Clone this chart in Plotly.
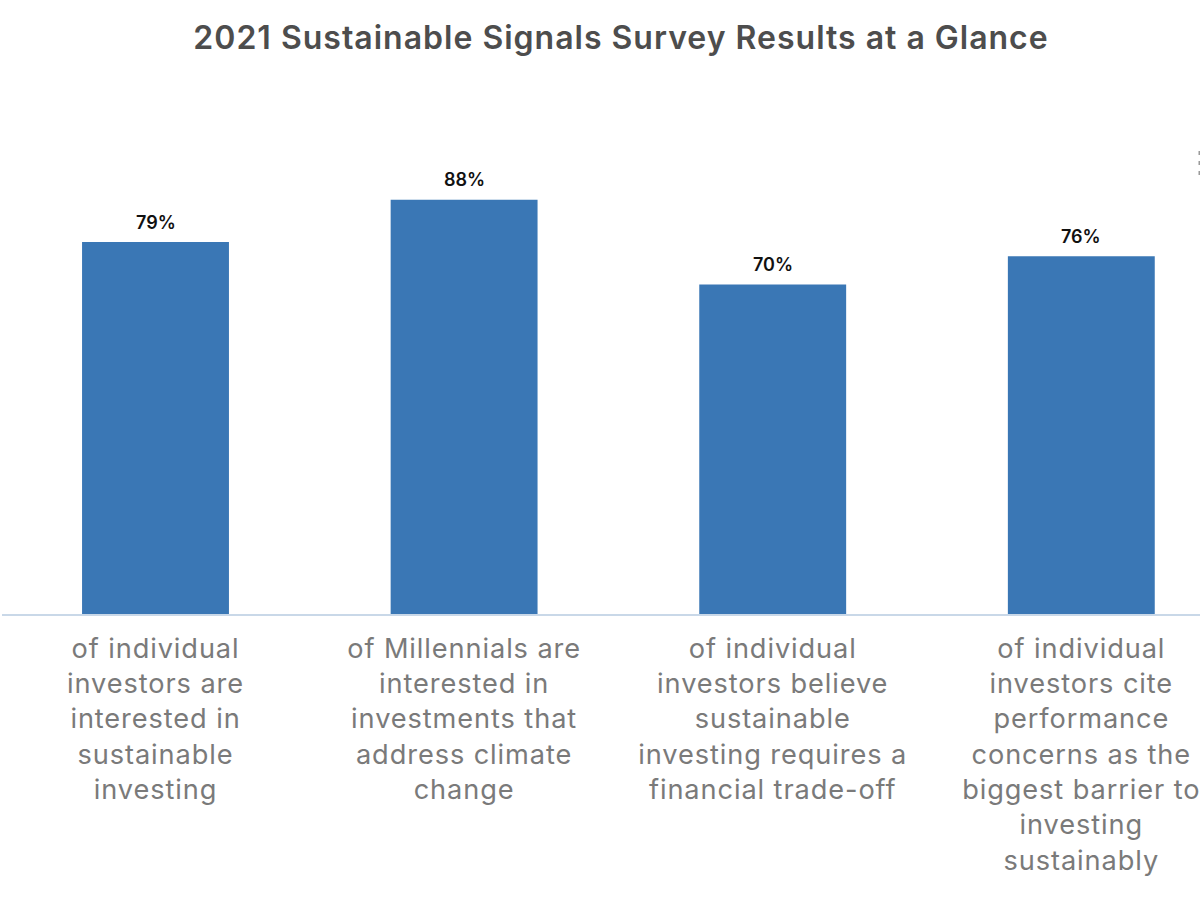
import plotly.graph_objects as go

categories = [
    "of individual<br>investors are<br>interested in<br>sustainable<br>investing",
    "of Millennials are<br>interested in<br>investments that<br>address climate<br>change",
    "of individual<br>investors believe<br>sustainable<br>investing requires a<br>financial trade-off",
    "of individual<br>investors cite<br>performance<br>concerns as the<br>biggest barrier to<br>investing<br>sustainably",
]
values = [79, 88, 70, 76]
labels = ["79%", "88%", "70%", "76%"]
title = "2021 Sustainable Signals Survey Results at a Glance"

fig = go.Figure(go.Bar(
    x=categories, y=values, cliponaxis=False,
    marker=dict(color="#3a77b5", line_width=0), width=0.476,
))
for c, v, t in zip(categories, values, labels):
    fig.add_annotation(x=c, y=v, text=t, showarrow=False, yanchor="middle", yshift=20,
                       font=dict(family="Inter, sans-serif", size=18, color="#111111", weight=600))
# small menu-dots artefact at the right edge of the reference
for py in (153, 163, 173):
    fig.add_shape(type="rect", xref="paper", yref="paper",
                  x0=1198.5 / 1200, x1=1, y0=1 - (py + 2) / 902, y1=1 - (py - 2) / 902,
                  fillcolor="#9a9a9a", line_width=0)
fig.update_layout(
    width=1200, height=902, autosize=False,
    margin=dict(l=0, r=0, t=0, b=0),
    paper_bgcolor="white", plot_bgcolor="white", showlegend=False,
    title=dict(text=title, x=0.5175, xanchor="center", y=0.958, yanchor="middle",
               font=dict(family="Inter, sans-serif", size=32, color="#4d4d4d", weight=600)),
    xaxis=dict(domain=[0.00167, 1], range=[-0.4974, 3.3846], showgrid=False, ticks="",
               showline=True, linecolor="#c9d8e8", linewidth=2, ticklabelstandoff=9,
               tickfont=dict(family="Inter, sans-serif", size=27.2, color="#7a7a7a")),
    yaxis=dict(domain=[0.3193, 1], range=[0, 130.4], visible=False, showgrid=False),
)
css = (
    "document.body.style.margin='0';"
    "var s=document.createElement('style');"
    "s.textContent='.xtick text{letter-spacing:0.9px}.gtitle{letter-spacing:1px}';"
    "document.head.appendChild(s);"
)
fig.write_html("out.html", post_script=css, config={"displayModeBar": False})
